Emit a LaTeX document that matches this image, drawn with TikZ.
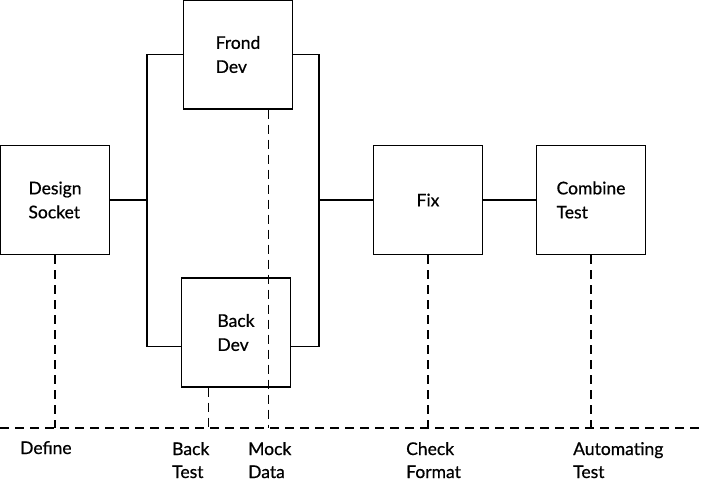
\documentclass[tikz,border=0pt]{standalone}
\usepackage{fontspec}
\setmainfont{Lato}[FakeBold=0.6]
\usetikzlibrary{calc}
\begin{document}
\begin{tikzpicture}[x=1pt,y=-1pt,
  box/.style={draw,line width=1.3pt,minimum width=109pt,minimum height=109pt,inner sep=0pt,align=left,font=\fontsize{17.5}{24}\selectfont},
  conn/.style={line width=1.3pt},
  dashln/.style={line width=1.2pt,dash pattern=on 9pt off 6pt},
  lbl/.style={anchor=base west,align=left,inner sep=0pt,font=\fontsize{17.5}{23}\selectfont}]
\useasboundingbox (0,0) rectangle (701,484);
\node[box] (ds) at (55,200) {Design\\Socket};
\node[box] (fd) at (238,54.5) {Frond\\Dev};
\node[box] (bd) at (236,332.5) {Back\\Dev};
\node[box] (fx) at (428,200) {Fix};
\node[box] (ct) at (591,200) {Combine\\Test};
\coordinate (j1) at (147,200);
\coordinate (j2) at (319,200);
\coordinate (L) at (0,428);
\coordinate (R) at (701,428);
\draw[conn] (ds.east) -- (j1);
\draw[conn] (fd.west) -| (j1) |- ([yshift=-14pt]bd.west);
\draw[conn] (fd.east) -| (j2) |- ([yshift=-14pt]bd.east);
\draw[conn] (j2) -- (fx.west);
\draw[conn] (fx.east) -- (ct.west);
\draw[dashln] (L) -- (R);
\coordinate (bt) at ($(bd.south west)!0.25!(bd.south east)$);
\coordinate (md) at ($(fd.south west)!0.78!(fd.south east)$);
\draw[dashln] (ds.south) -- (ds.south |- L);
\draw[dashln] (bt) -- (bt |- L);
\draw[dashln] (md) -- (md |- L);
\draw[dashln] (fx.south) -- (fx.south |- L);
\draw[dashln] (ct.south) -- (ct.south |- L);
\node[lbl] (t1) at (20,454) {Define};
\node[lbl] (t2) at (172,478) {Back\\Test};
\node[lbl] (t3) at (248,478) {Mock\\Data};
\node[lbl] (t4) at (406,478) {Check\\Format};
\node[lbl] (t5) at (573,478) {Automating\\Test};
\end{tikzpicture}
\end{document}
